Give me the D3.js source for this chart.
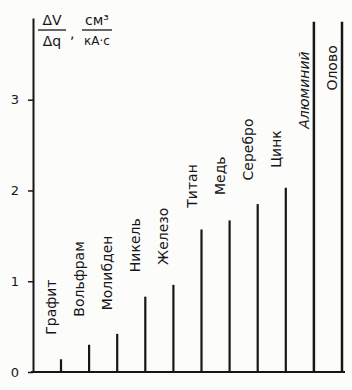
<!DOCTYPE html>
<html>
<head>
<meta charset="utf-8">
<script src="https://cdn.jsdelivr.net/npm/d3@7"></script>
<style>
  body { margin: 0; background: #fcfcfb; }
  svg { display: block; }
</style>
</head>
<body>
<div id="chart"></div>
<script>
// metals, drawn left to right
const metals = ["Графит", "Вольфрам", "Молибден", "Никель", "Железо", "Титан",
  "Медь", "Серебро", "Цинк", "Алюминий", "Олово"];
// ΔV/Δq, cm3/(kA·s)
const rates = [0.14, 0.30, 0.42, 0.83, 0.96, 1.57, 1.67, 1.85, 2.03, 3.86, 3.86];
// value level where each vertical label begins
const labelFrom = [0.41, 0.61, 0.68, 1.10, 1.18, 1.81, 1.95, 2.11, 2.25, 2.68, 3.10];
const yTicks = [0, 1, 2, 3];

const width = 352;
const height = 390;
const ink = "#161616";
const font = "DejaVu Sans, sans-serif";

const svg = d3.select("#chart")
  .append("svg")
  .attr("width", width)
  .attr("height", height)
  .style("font-family", font);

const xScale = d3.scalePoint()
  .domain(metals)
  .range([61, 342]);

const yScale = d3.scaleLinear()
  .domain([0, 3.9])
  .range([372, 18]);

// y axis
const yAxis = d3.axisLeft(yScale)
  .tickValues(yTicks)
  .tickSize(5)
  .tickSizeOuter(0)
  .tickPadding(9)
  .tickFormat(d3.format("d"));

const yAxisGroup = svg.append("g")
  .attr("transform", "translate(33, 0)")
  .call(yAxis);
yAxisGroup.select(".domain").attr("stroke", ink).attr("stroke-width", 2);
yAxisGroup.selectAll(".tick line").attr("stroke", ink).attr("stroke-width", 1.5);
yAxisGroup.selectAll(".tick text")
  .style("font-family", font)
  .style("font-size", "13px")
  .attr("fill", ink);

// baseline
svg.append("line")
  .attr("x1", 31)
  .attr("x2", 345)
  .attr("y1", yScale(0))
  .attr("y2", yScale(0))
  .attr("stroke", ink)
  .attr("stroke-width", 2);

// bars as vertical strokes
svg.selectAll(".bar")
  .data(metals)
  .enter()
  .append("line")
  .attr("class", "bar")
  .attr("x1", (d) => xScale(d))
  .attr("x2", (d) => xScale(d))
  .attr("y1", yScale(0))
  .attr("y2", (d, i) => yScale(rates[i]))
  .attr("stroke", ink)
  .attr("stroke-width", (d, i) => (rates[i] > 3 ? 2.5 : 2.2));

// rotated labels
svg.selectAll(".label")
  .data(metals)
  .enter()
  .append("text")
  .attr("class", "label")
  .attr("transform", (d, i) =>
    `translate(${xScale(d) - 5}, ${yScale(labelFrom[i])}) rotate(-90)`)
  .attr("text-anchor", "start")
  .attr("fill", ink)
  .style("font-size", "14px")
  .style("font-style", (d) => (d === "Алюминий" ? "italic" : "normal"))
  .text((d) => d);

// axis title: ΔV/Δq , cm3/(kA·s)
const title = svg.append("g").attr("fill", ink).style("font-size", "14px");
title.append("text").attr("x", 52).attr("y", 25).attr("text-anchor", "middle").text("ΔV");
title.append("line").attr("x1", 38).attr("x2", 66).attr("y1", 30).attr("y2", 30)
  .attr("stroke", ink).attr("stroke-width", 1.3);
title.append("text").attr("x", 52).attr("y", 46).attr("text-anchor", "middle").text("Δq");
title.append("text").attr("x", 70).attr("y", 38).text(",");
title.append("text").attr("x", 97).attr("y", 25).attr("text-anchor", "middle")
  .text("см³");
title.append("line").attr("x1", 82).attr("x2", 112).attr("y1", 30).attr("y2", 30)
  .attr("stroke", ink).attr("stroke-width", 1.3);
title.append("text").attr("x", 97).attr("y", 45).attr("text-anchor", "middle")
  .style("font-size", "12px").text("кА·с");
</script>
</body>
</html>
